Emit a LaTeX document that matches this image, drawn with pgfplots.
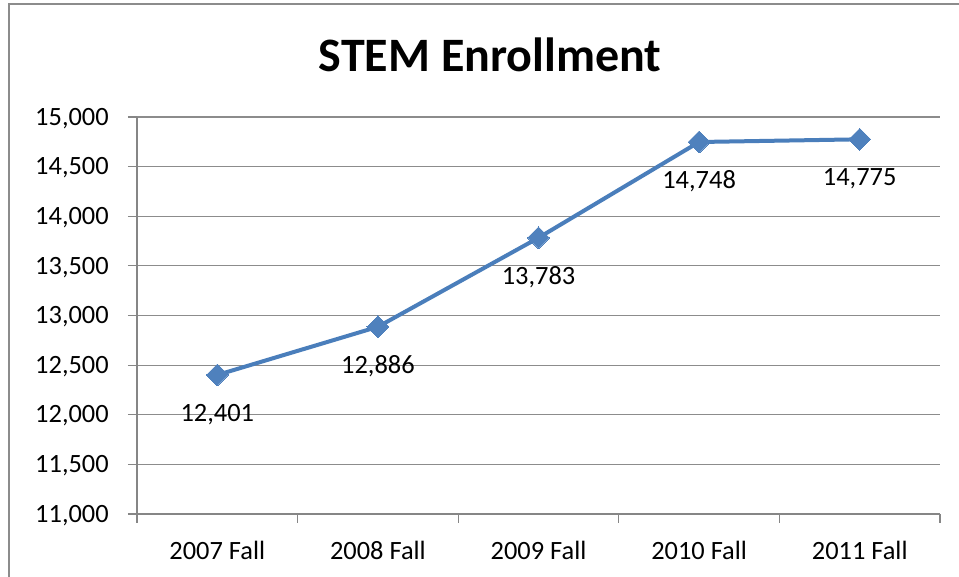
\documentclass[border=0pt]{standalone}
\usepackage{pgfplots}
\pgfplotsset{compat=1.18}
\usepackage{fontspec}
\setmainfont{Carlito}
\definecolor{lineblue}{HTML}{4A7EBB}
\definecolor{markblue}{HTML}{4F81BD}
\definecolor{axisgray}{HTML}{868686}
\definecolor{gridgray}{HTML}{8C8C8C}
\begin{document}
\begin{tikzpicture}
\useasboundingbox (0,0) rectangle (719.25pt,432.75pt);
\fill[white] (0,0) rectangle (719.25pt,432.75pt);
\draw[gridgray, line width=1.5pt] (6.75pt,-5pt) -- (6.75pt,429.75pt) -- (730pt,429.75pt);
\node[font=\fontsize{36}{43}\selectfont\bfseries] at (367.5pt,391.5pt) {STEM Enrollment};
\begin{axis}[
  at={(102.75pt,47.25pt)}, anchor=south west,
  scale only axis, width=602.25pt, height=297.75pt,
  xmin=-0.5, xmax=4.5, ymin=11000, ymax=15000,
  ytick={11000,11500,...,15000},
  scaled y ticks=false,
  /pgf/number format/fixed,
  /pgf/number format/precision=0,
  /pgf/number format/1000 sep={,},
  /pgf/number format/assume math mode=true,
  xtick={-0.5,0.5,1.5,2.5,3.5,4.5},
  xticklabels={},
  extra x ticks={0,1,2,3,4},
  extra x tick labels={2007 Fall,2008 Fall,2009 Fall,2010 Fall,2011 Fall},
  extra x tick style={major tick length=0pt, xticklabel style={anchor=base, inner sep=0pt, yshift=-34.5pt}},
  axis x line*=bottom, axis y line*=left,
  axis line style={axisgray, line width=0.9pt},
  tick align=outside,
  major tick length=6.75pt,
  tick style={draw=axisgray, line width=0.9pt},
  ymajorgrids, grid style={gridgray, line width=0.9pt},
  tick label style={font=\fontsize{19.8}{23}\selectfont, text=black},
  yticklabel style={anchor=base east, inner sep=0pt, yshift=-6.15pt, xshift=-14.25pt},
  nodes near coords={\pgfmathprintnumber{\pgfplotspointmeta}},
  point meta=y,
  every node near coord/.append style={anchor=base, yshift=-34.9pt, font=\fontsize{19.8}{23}\selectfont, text=black},
  clip=false,
]
\addplot[lineblue, line width=3pt, mark=square*, mark size=5.8pt,
  mark options={rotate=45, fill=markblue, draw=markblue, line width=0pt}]
  coordinates {(0,12401) (1,12886) (2,13783) (3,14748) (4,14775)};
\end{axis}
\end{tikzpicture}
\end{document}
